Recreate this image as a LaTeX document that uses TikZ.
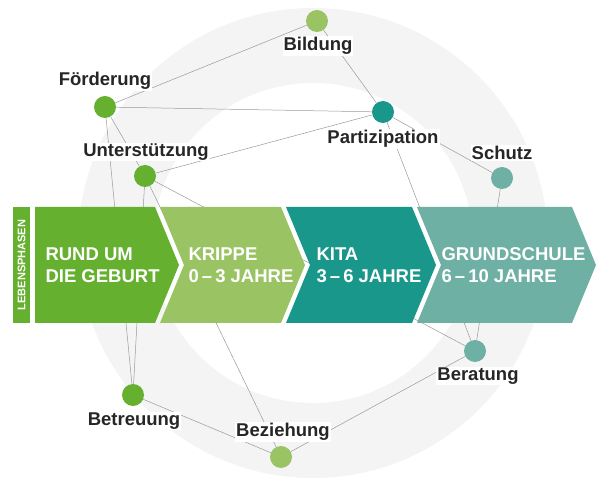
\documentclass[tikz,border=0pt]{standalone}
\usepackage{fontspec}
\setmainfont{Liberation Sans}
\definecolor{gruen}{HTML}{65B02E}
\definecolor{hellgruen}{HTML}{9AC464}
\definecolor{petrol}{HTML}{18978A}
\definecolor{graugruen}{HTML}{6FB0A5}
\definecolor{ring}{HTML}{F4F4F4}
\tikzset{
  punkt/.style={circle,minimum size=22pt,inner sep=0pt},
  begriff/.style={font=\bfseries\fontsize{18.5}{18.5}\selectfont,fill=white,inner sep=1pt,text=black!85},
  phase/.style={font=\bfseries\fontsize{18.5}{22}\selectfont,text=white,align=left,anchor=west},
  kante/.style={draw=black!40,line width=0.5pt}
}
\begin{document}
\begin{tikzpicture}[x=1pt,y=-1pt]
\useasboundingbox (0,0) rectangle (608,478);
% Hintergrundring
\fill[ring,even odd rule] (313,243) circle (235) (313,243) circle (160);

% Punkte
\node[punkt,fill=hellgruen] (bildung) at (317,21) {};
\node[punkt,fill=gruen] (foerderung) at (105,107) {};
\node[punkt,fill=petrol] (partizipation) at (383,112) {};
\node[punkt,fill=graugruen] (schutz) at (502,178) {};
\node[punkt,fill=gruen] (unterstuetzung) at (145,176) {};
\node[punkt,fill=graugruen] (beratung) at (475,351) {};
\node[punkt,fill=gruen] (betreuung) at (133,395) {};
\node[punkt,fill=hellgruen] (beziehung) at (281,457) {};

% Kanten
\draw[kante] (bildung) -- (foerderung);
\draw[kante] (bildung) -- (partizipation);
\draw[kante] (foerderung) -- (partizipation);
\draw[kante] (partizipation) -- (unterstuetzung);
\draw[kante] (partizipation) -- (schutz);
\draw[kante] (partizipation) -- (beratung);
\draw[kante] (foerderung) -- (unterstuetzung);
\draw[kante] (foerderung) -- (betreuung);
\draw[kante] (unterstuetzung) -- (betreuung);
\draw[kante] (unterstuetzung) -- (beratung);
\draw[kante] (unterstuetzung) -- (beziehung);
\draw[kante] (schutz) -- (beratung);
\draw[kante] (betreuung) -- (beziehung);
\draw[kante] (beziehung) -- (beratung);

% Begriffe
\node[begriff] (l-bildung) at (318,46) {Bildung};
\node[begriff] (l-foerderung) at (105,81) {Förderung};
\node[begriff] (l-partizipation) at (383,139) {Partizipation};
\node[begriff] (l-schutz) at (502,153) {Schutz};
\node[begriff] (l-unterstuetzung) at (146,152) {Unterstützung};
\node[begriff] (l-beratung) at (478,376) {Beratung};
\node[begriff] (l-betreuung) at (134,421) {Betreuung};
\node[begriff] (l-beziehung) at (283,432) {Beziehung};

% Lebensphasen
\fill[gruen] (13,207) rectangle (30,323);
\node[rotate=90,text=white,font=\bfseries\fontsize{11}{11}\selectfont] (lebensphasen) at (21.5,265) {LEBENSPHASEN};
\fill[gruen] (35,207) -- (155,207) -- (179,265) -- (155,323) -- (35,323) -- cycle;
\fill[hellgruen] (160,207) -- (281,207) -- (305,265) -- (281,323) -- (160,323) -- (184,265) -- cycle;
\fill[petrol] (286,207) -- (412,207) -- (436,265) -- (412,323) -- (286,323) -- (310,265) -- cycle;
\fill[graugruen] (417,207) -- (572,207) -- (596,265) -- (572,323) -- (417,323) -- (441,265) -- cycle;
\node[phase] (geburt) at (42,265) {RUND UM\\DIE GEBURT};
\node[phase] (krippe) at (185,265) {KRIPPE\\0\,–\,3 JAHRE};
\node[phase] (kita) at (313,265) {KITA\\3\,–\,6 JAHRE};
\node[phase] (schule) at (438,265) {GRUNDSCHULE\\6\,–\,10 JAHRE};
\end{tikzpicture}
\end{document}
